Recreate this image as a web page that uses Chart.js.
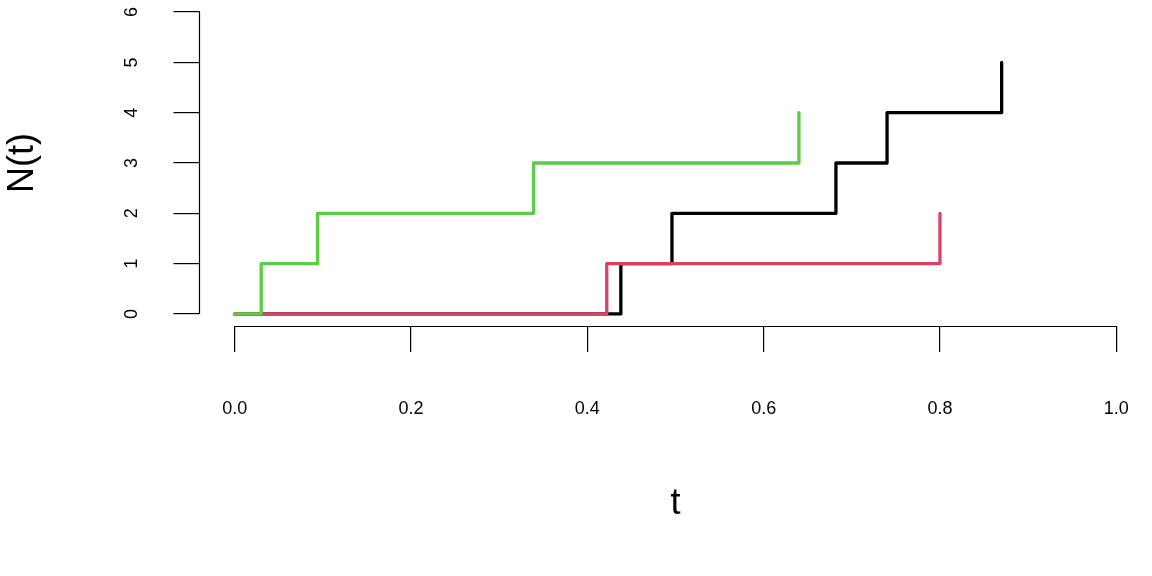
<!DOCTYPE html>
<html>
<head>
<meta charset="utf-8">
<style>
  html, body { margin: 0; padding: 0; background: #ffffff; }
  #wrap { width: 1152px; height: 576px; }
</style>
<script src="https://cdn.jsdelivr.net/npm/chart.js@4.4.1/dist/chart.umd.min.js"></script>
</head>
<body>
<div id="wrap"><canvas id="c" width="1152" height="576"></canvas></div>
<script>
// ---- data ----
const blackT = [0, 0.438, 0.496, 0.682, 0.740, 0.870];
const blackN = [0, 1, 2, 3, 4, 5];
const redT   = [0, 0.422, 0.800];
const redN   = [0, 1, 2];
const greenT = [0, 0.030, 0.094, 0.339, 0.640];
const greenN = [0, 1, 2, 3, 4];

const xTicks = [0, 0.2, 0.4, 0.6, 0.8, 1.0];
const xTickLabels = ['0.0', '0.2', '0.4', '0.6', '0.8', '1.0'];
const yTicks = [0, 1, 2, 3, 4, 5, 6];
const yTickLabels = ['0', '1', '2', '3', '4', '5', '6'];
const xTitle = 't';
const yTitle = 'N(t)';

const FONT = '"Liberation Sans", Arial, Helvetica, sans-serif';

function pts(ts, ns) { return ts.map((t, i) => ({ x: t, y: ns[i] })); }

const axisLinePlugin = {
  id: 'axisLines',
  afterDraw(chart) {
    const ctx = chart.ctx;
    const xs = chart.scales.x, ys = chart.scales.y;
    const ca = chart.chartArea;
    ctx.save();
    ctx.strokeStyle = '#000';
    ctx.lineWidth = 1.2;
    ctx.lineCap = 'butt';
    // x axis segment between first and last tick
    const yb = Math.round(ca.bottom) + 0.5;
    ctx.beginPath();
    ctx.moveTo(xs.getPixelForValue(xTicks[0]), yb);
    ctx.lineTo(xs.getPixelForValue(xTicks[xTicks.length - 1]), yb);
    ctx.stroke();
    // y axis segment
    const xl = Math.round(ca.left) - 0.5;
    ctx.beginPath();
    ctx.moveTo(xl, ys.getPixelForValue(yTicks[0]));
    ctx.lineTo(xl, ys.getPixelForValue(yTicks[yTicks.length - 1]));
    ctx.stroke();
    // rotated y tick labels (parallel to axis)
    ctx.fillStyle = '#000';
    ctx.font = '18px ' + FONT;
    ctx.textAlign = 'center';
    ctx.textBaseline = 'middle';
    ys.ticks.forEach((tk, i) => {
      const py = ys.getPixelForValue(tk.value);
      ctx.save();
      ctx.translate(132.5, py);
      ctx.rotate(-Math.PI / 2);
      ctx.fillText(yTickLabels[i], 0, 0);
      ctx.restore();
    });
    ctx.restore();
  }
};

const common = {
  fill: false,
  stepped: 'before',
  borderWidth: 3.3,
  pointRadius: 0,
  borderCapStyle: 'round',
  borderJoinStyle: 'round',
  tension: 0
};

new Chart(document.getElementById('c'), {
  type: 'line',
  data: {
    datasets: [
      Object.assign({ label: 'black', data: pts(blackT, blackN), borderColor: '#000000', order: 3 }, common),
      Object.assign({ label: 'red', data: pts(redT, redN), borderColor: '#D8435F', order: 2 }, common),
      Object.assign({ label: 'green', data: pts(greenT, greenN), borderColor: '#5CCB45', order: 1 }, common)
    ]
  },
  options: {
    responsive: false,
    animation: false,
    devicePixelRatio: 1,
    layout: { padding: { left: 0, right: 0.5, top: 0, bottom: 0 } },
    plugins: { legend: { display: false }, tooltip: { enabled: false } },
    scales: {
      x: {
        type: 'linear',
        position: 'bottom',
        min: -0.04,
        max: 1.04,
        afterBuildTicks(scale) { scale.ticks = xTicks.map(v => ({ value: v })); },
        afterFit(scale) { scale.height = 250; scale.paddingLeft = 0; scale.paddingRight = 0; },
        border: { display: false },
        grid: { display: true, drawOnChartArea: false, drawTicks: true, tickLength: 26, color: '#000', lineWidth: 1.2 },
        ticks: {
          autoSkip: false, maxRotation: 0, minRotation: 0, padding: 46,
          color: '#000', font: { family: FONT, size: 18 },
          callback(value, index) { return xTickLabels[index]; }
        },
        title: { display: true, text: xTitle, color: '#000', font: { family: FONT, size: 36 }, padding: { top: 0, bottom: 50 } }
      },
      y: {
        type: 'linear',
        position: 'left',
        min: -0.24,
        max: 6.24,
        afterBuildTicks(scale) { scale.ticks = yTicks.map(v => ({ value: v })); },
        afterFit(scale) { scale.width = 199.5; scale.paddingTop = 0; scale.paddingBottom = 0; },
        border: { display: false },
        grid: { display: true, drawOnChartArea: false, drawTicks: true, tickLength: 26, color: '#000', lineWidth: 1.2 },
        ticks: { display: false },
        title: { display: true, text: yTitle, color: '#000', font: { family: FONT, size: 36 }, padding: { top: 1.5, bottom: 0 } }
      }
    }
  },
  plugins: [axisLinePlugin]
});
</script>
</body>
</html>
